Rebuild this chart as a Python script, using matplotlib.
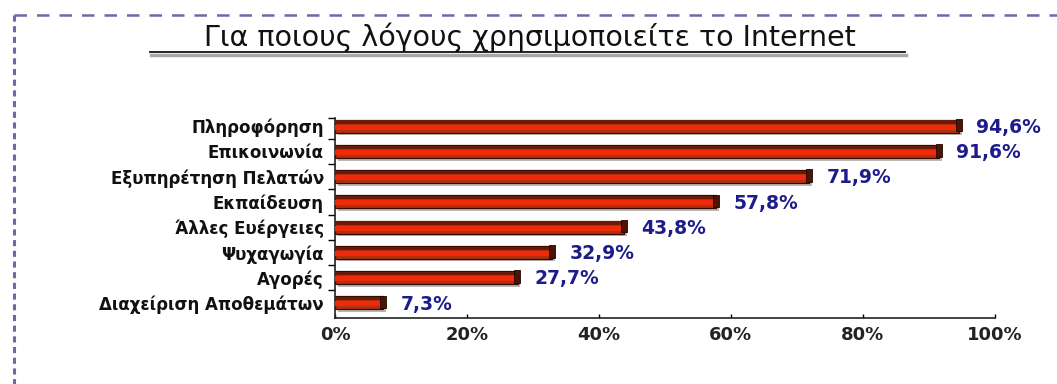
import numpy as np
import matplotlib
matplotlib.use('Agg')
import matplotlib.pyplot as plt
from matplotlib.lines import Line2D

categories = ['Πληροφόρηση', 'Επικοινωνία', 'Εξυπηρέτηση Πελατών', 'Εκπαίδευση',
              'Άλλες Ευέργειες', 'Ψυχαγωγία', 'Αγορές', 'Διαχείριση Αποθεμάτων']
values = [94.6, 91.6, 71.9, 57.8, 43.8, 32.9, 27.7, 7.3]
xticks = [0, 20, 40, 60, 80, 100]
title = 'Για ποιους λόγους χρησιμοποιείτε το Internet'

plt.rcParams['font.family'] = ['DejaVu Sans']

fig = plt.figure(figsize=(10.57, 3.84), dpi=100)
ax = fig.add_axes([0.317, 0.172, 0.624, 0.521])

y = np.arange(len(categories))
h = 0.52

# shadow, body, darker top band, bright lower band, end cap
ax.barh(y + 0.1, values, height=h, left=0.4, color='#b8b8b8', zorder=1)
ax.barh(y, values, height=h, color='#b03010', edgecolor='#3a0a00', linewidth=0.9, zorder=2)
ax.barh(y - h * 0.32, values, height=h * 0.24, color='#6a1a06', zorder=3)
ax.barh(y + h * 0.08, values, height=h * 0.38, color='#ee2a0a', zorder=3)
ax.barh(y - 0.04, [0.9] * len(values), height=h * 0.95, left=np.array(values) - 0.5,
        color='#4a1406', edgecolor='#220500', linewidth=0.6, zorder=4)

for yi, v in zip(y, values):
    ax.text(v + 2.6, yi + 0.05, f'{v:.1f}%'.replace('.', ','), color='#1c1c8a',
            fontsize=13.5, fontweight='bold', va='center', ha='left')

ax.set_xlim(0, 100)
ax.set_ylim(7.6, -0.33)
ax.set_xticks(xticks)
ax.set_xticklabels([f'{t}%' for t in xticks], fontsize=13, fontweight='bold', color='#222222')
ax.set_yticks(y)
ax.set_yticklabels(categories, fontsize=12, fontweight='bold', color='#111111')
ax.set_yticks(np.append(y[:-1] + 0.5, -0.33), minor=True)
ax.tick_params(axis='y', which='major', length=0, pad=8)
ax.tick_params(axis='y', which='minor', length=5, width=1, direction='out')
ax.tick_params(axis='x', length=3, width=1, direction='in', pad=6)

for s in ['top', 'right']:
    ax.spines[s].set_visible(False)
ax.spines['left'].set_linewidth(1.2)
ax.spines['bottom'].set_linewidth(1.2)
ax.spines['left'].set_color('#222222')
ax.spines['bottom'].set_color('#222222')

# title with underline and shadow
fig.text(0.501, 0.902, title, fontsize=20.5, ha='center', va='center', color='#111111')
fig.add_artist(Line2D([0.143, 0.857], [0.857, 0.857], transform=fig.transFigure,
                      color='#a8a8a8', linewidth=2.5))
fig.add_artist(Line2D([0.142, 0.856], [0.865, 0.865], transform=fig.transFigure,
                      color='#111111', linewidth=1.3))

# dashed frame on the left and top
fig.add_artist(Line2D([0.013, 1.0], [0.96, 0.96], transform=fig.transFigure,
                      color='#6a6aa8', linewidth=1.8, linestyle=(0, (5, 4))))
fig.add_artist(Line2D([0.013, 0.013], [0.96, 0.0], transform=fig.transFigure,
                      color='#6a6aa8', linewidth=2.2, linestyle=(0, (2, 1.5))))

fig.savefig('out.png', dpi=100)
